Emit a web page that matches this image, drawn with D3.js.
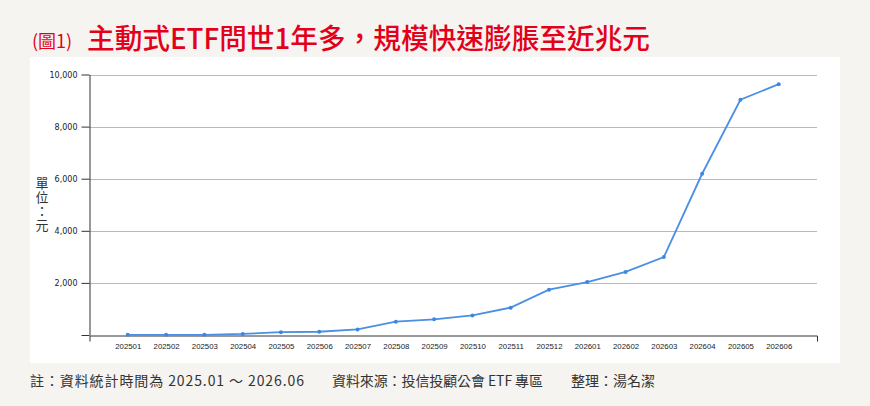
<!DOCTYPE html>
<html>
<head>
<meta charset="utf-8">
<script src="https://cdn.jsdelivr.net/npm/d3@7"></script>
<style>
  body { margin: 0; background: #f5f4f0; }
  svg { display: block; }
</style>
</head>
<body>
<svg id="chart" width="870" height="406"></svg>
<script>
// monthly scale, 單位：元
var months = ['202501', '202502', '202503', '202504', '202505', '202506', '202507', '202508', '202509',
  '202510', '202511', '202512', '202601', '202602', '202603', '202604', '202605', '202606'];
var values = [5, 5, 8, 40, 110, 125, 215, 510, 600, 750, 1050, 1740, 2030, 2420, 2990, 6190, 9030, 9630];
var yTicks = [0, 2000, 4000, 6000, 8000, 10000];

var svg = d3.select('#chart'),
    width = +svg.attr('width'),
    height = +svg.attr('height');

svg.append('rect')
  .attr('width', width).attr('height', height)
  .attr('fill', '#f5f4f0');

// white plot panel
svg.append('rect')
  .attr('x', 30).attr('y', 57)
  .attr('width', 810).attr('height', 306)
  .attr('fill', '#ffffff');

// title
svg.append('text')
  .attr('x', 32)
  .attr('y', 48)
  .attr('fill', '#e3001b')
  .style('font-family', '"Noto Sans CJK TC", sans-serif')
  .style('font-size', '18px')
  .text('(圖1)');
svg.append('text')
  .attr('x', 87)
  .attr('y', 49)
  .attr('fill', '#e3001b')
  .attr('textLength', 563)
  .attr('lengthAdjust', 'spacingAndGlyphs')
  .style('font-family', '"Noto Sans CJK TC", sans-serif')
  .style('font-size', '28px')
  .style('font-weight', 500)
  .text('主動式ETF問世1年多，規模快速膨脹至近兆元');

var x = d3.scalePoint()
  .domain(months)
  .range([89.5, 817])
  .padding(1);

var y = d3.scaleLinear()
  .domain([0, 10000])
  .range([335, 74.5]);

// gridlines
svg.append('g').selectAll('line')
  .data(yTicks.slice(1))
  .enter().append('line')
  .attr('x1', 89.5).attr('x2', 817)
  .attr('y1', function(d) { return Math.round(y(d)) + 0.5; })
  .attr('y2', function(d) { return Math.round(y(d)) + 0.5; })
  .attr('stroke', '#b9b9b9')
  .attr('stroke-width', 1);

var yAxis = svg.append('g')
  .attr('transform', 'translate(89.5,0)')
  .call(d3.axisLeft(y)
    .tickValues(yTicks)
    .tickSize(8)
    .tickSizeOuter(0)
    .tickPadding(4)
    .tickFormat(function(d) { return d === 0 ? '' : d3.format(',')(d); }));
yAxis.selectAll('path, line').attr('stroke', '#333');
yAxis.selectAll('text')
  .attr('fill', '#222')
  .style('font-family', '"DejaVu Sans", sans-serif')
  .style('font-size', '8px');

var xAxis = svg.append('g')
  .attr('transform', 'translate(0,335.5)')
  .call(d3.axisBottom(x).tickSizeInner(0).tickSizeOuter(6).tickPadding(8));
xAxis.selectAll('path').attr('stroke', '#333');
xAxis.selectAll('text')
  .attr('fill', '#222')
  .style('font-family', '"Liberation Sans", Arial, sans-serif')
  .style('font-size', '7.8px');

// y axis unit label, written top to bottom
svg.append('text')
  .attr('x', 42)
  .attr('y', 177)
  .attr('fill', '#333')
  .style('writing-mode', 'vertical-rl')
  .style('text-orientation', 'upright')
  .style('letter-spacing', '1px')
  .style('font-family', '"Noto Sans CJK TC", sans-serif')
  .style('font-size', '13px')
  .text('單位：元');

var line = d3.line()
  .x(function(d, i) { return x(months[i]); })
  .y(function(d) { return y(d); });

svg.append('path')
  .datum(values)
  .attr('d', line)
  .attr('fill', 'none')
  .attr('stroke', '#4a8fe3')
  .attr('stroke-width', 1.8);

svg.append('g').selectAll('circle')
  .data(values)
  .enter().append('circle')
  .attr('cx', function(d, i) { return x(months[i]); })
  .attr('cy', function(d) { return y(d); })
  .attr('r', 2)
  .attr('fill', '#3f86e0');

// footer notes
var notes = [
  { x: 30, w: 274, t: '註：資料統計時間為 2025.01 ～ 2026.06' },
  { x: 332, w: 211, t: '資料來源：投信投顧公會 ETF 專區' },
  { x: 571, w: 84, t: '整理：湯名潔' }
];
svg.append('g').selectAll('text')
  .data(notes)
  .enter().append('text')
  .attr('x', function(d) { return d.x; })
  .attr('y', 386)
  .attr('textLength', function(d) { return d.w; })
  .attr('lengthAdjust', 'spacing')
  .attr('fill', '#333')
  .style('font-family', '"Noto Sans CJK TC", sans-serif')
  .style('font-size', '14px')
  .text(function(d) { return d.t; });
</script>
</body>
</html>
